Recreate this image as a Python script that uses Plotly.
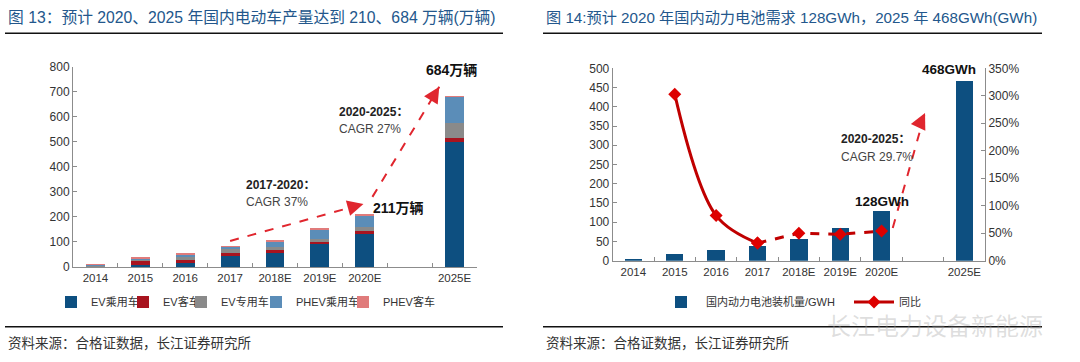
import plotly.graph_objects as go

# ---------------- data ----------------
categories = ["2014", "2015", "2016", "2017", "2018E", "2019E", "2020E", " ", "2025E"]
years = ["2014", "2015", "2016", "2017", "2018E", "2019E", "2020E", "2025E"]

ev_passenger = [2, 10, 17, 44, 55, 91, 131, 498]
ev_bus = [3, 12, 12, 11, 13, 10, 14, 18]
ev_special = [2, 8, 16, 20, 12, 12, 16, 60]
phev_passenger = [3, 6, 7, 7, 25, 38, 47, 105]
phev_bus = [2, 4, 3, 2, 3, 2, 3, 3]

battery_gwh = [3.7, 16.9, 29, 37, 57, 86, 128, 468]
yoy_years_actual = ["2015", "2016", "2017"]
yoy_actual = [3.03, 0.82, 0.32]
yoy_years_fcst = ["2017", "2018E", "2019E", "2020E"]
yoy_fcst = [0.32, 0.50, 0.48, 0.54]

series_names = ["EV乘用车", "EV客车", "EV专用车", "PHEV乘用车", "PHEV客车"]
series_vals = [ev_passenger, ev_bus, ev_special, phev_passenger, phev_bus]
series_cols = ["#0d4f80", "#a8141f", "#8a8a8a", "#5b8db8", "#e07b7b"]

W, H = 1080, 362
def px(x): return x / W
def py(y): return 1 - y / H

FONT = "Liberation Sans, Arial, Noto Sans CJK SC, sans-serif"
TXT = "#333333"
AX = "#8c8c8c"
BLUE_T = "#23578c"
ARROW = "#e0262e"

fig = go.Figure()

# ---------------- left chart ----------------
left_legends = ["legend", "legend3", "legend4", "legend5", "legend6"]
left_legend_text_x = [87, 159, 217, 292, 379]
for name, vals, col, lg in zip(series_names, series_vals, series_cols, left_legends):
    fig.add_trace(go.Bar(x=years, y=vals, name=name, marker=dict(color=col, line=dict(width=0)),
                         xaxis="x", yaxis="y", legend=lg, width=0.42))

totals = [sum(v) for v in zip(*series_vals)]

# ---------------- right chart ----------------
fig.add_trace(go.Bar(x=years, y=battery_gwh, name="国内动力电池装机量/GWH",
                     marker=dict(color="#0d4f80", line=dict(width=0)),
                     xaxis="x2", yaxis="y2", legend="legend2", width=0.42))
fig.add_trace(go.Scatter(x=yoy_years_actual, y=yoy_actual, name="同比", mode="lines+markers",
                         line=dict(color="#c00000", width=3, shape="spline", smoothing=1.0),
                         marker=dict(symbol="diamond", size=10, color="#dd0000"),
                         xaxis="x2", yaxis="y3", legend="legend7"))
fig.add_trace(go.Scatter(x=yoy_years_fcst, y=yoy_fcst, name="同比", mode="lines+markers",
                         line=dict(color="#c00000", width=3, dash="dash"),
                         marker=dict(symbol="diamond", size=10, color="#dd0000"),
                         xaxis="x2", yaxis="y3", showlegend=False))

axis_common = dict(showgrid=False, zeroline=False, showline=True, linecolor=AX, linewidth=1,
                   ticks="inside", ticklen=4, tickcolor=AX,
                   tickfont=dict(family=FONT, size=12, color=TXT))
xaxis_common = dict(axis_common, tickangle=0, tickfont=dict(family=FONT, size=11.5, color=TXT))

legend_font = dict(family=FONT, size=11, color=TXT)
legends = {}
for lg, tx in zip(left_legends, left_legend_text_x):
    legends[lg] = dict(orientation="h", x=px(tx - 36), y=py(302), xanchor="left", yanchor="middle",
                       font=legend_font, itemwidth=30, bgcolor="rgba(0,0,0,0)")
legends["legend2"] = dict(orientation="h", x=px(656), y=py(302), xanchor="left", yanchor="middle",
                          font=legend_font, itemwidth=40, bgcolor="rgba(0,0,0,0)")
legends["legend7"] = dict(orientation="h", x=px(849), y=py(302), xanchor="left", yanchor="middle",
                          font=legend_font, itemwidth=40, bgcolor="rgba(0,0,0,0)")

fig.update_layout(
    width=W, height=H, margin=dict(l=0, r=0, t=0, b=0, autoexpand=False),
    paper_bgcolor="white", plot_bgcolor="white",
    barmode="stack", font=dict(family=FONT, color=TXT),
    xaxis=dict(domain=[px(73), px(477)], anchor="y", type="category",
               categoryorder="array", categoryarray=categories, range=[-0.5, 8.5],
               tickson="boundaries", **xaxis_common),
    yaxis=dict(domain=[py(267), py(66.7)], anchor="x", range=[0, 800], dtick=100, **axis_common),
    xaxis2=dict(domain=[px(612.7), px(985)], anchor="y2", type="category",
                categoryorder="array", categoryarray=categories, range=[-0.5, 8.5],
                tickson="boundaries", **xaxis_common),
    yaxis2=dict(domain=[py(260.7), py(68.3)], anchor="x2", range=[0, 500], dtick=50, **axis_common),
    yaxis3=dict(overlaying="y2", anchor="x2", side="right", range=[0, 3.5], dtick=0.5,
                tickformat=".0%", **axis_common),
    **legends,
)

idx = {c: i for i, c in enumerate(categories)}

# dashed trend arrows (shapes) with arrowheads (annotations)
dash_lines = [
    ("x", "y", idx["2017"], totals[years.index("2017")] + 20, idx["2020E"] - 0.03, 252, -7.7, 2.1),
    ("x", "y", idx["2020E"] + 0.17, 280, idx["2025E"] - 0.34, 720, -4.2, 6.8),
    ("x2", "y2", idx["2020E"] + 0.27, 85, idx["2025E"] - 0.95, 384, -3.5, 7.3),
]
for xr, yr, x0, y0, x1, y1, ax, ay in dash_lines:
    fig.add_shape(type="line", xref=xr, yref=yr, x0=x0, y0=y0, x1=x1, y1=y1,
                  line=dict(color=ARROW, width=2, dash="dash"))
    fig.add_annotation(xref=xr, yref=yr, x=x1, y=y1, ax=ax, ay=ay, text="", showarrow=True,
                       arrowhead=2, arrowsize=1.6, arrowwidth=2, arrowcolor=ARROW, standoff=0)

ann = []
# value labels
ann.append(dict(xref="x", yref="y", x="2025E", y=totals[-1], text="<b>684万辆</b>", showarrow=False,
                yanchor="bottom", yshift=16, xshift=-3, font=dict(size=14, color="#111")))
ann.append(dict(xref="x", yref="y", x="2020E", y=totals[years.index("2020E")], text="<b>211万辆</b>",
                showarrow=False, xanchor="left", yanchor="middle", xshift=6, yshift=6,
                font=dict(size=14, color="#111")))
ann.append(dict(xref="x2", yref="y2", x="2025E", y=battery_gwh[-1], text="<b>468GWh</b>", showarrow=False,
                yanchor="bottom", yshift=2, xshift=-15, font=dict(size=13.5, color="#111")))
ann.append(dict(xref="x2", yref="y2", x="2020E", y=battery_gwh[years.index("2020E")], text="<b>128GWh</b>",
                showarrow=False, yanchor="bottom", yshift=0, font=dict(size=13.5, color="#111")))
# CAGR labels
for x, y, t in [(244, 185, "<b>2017-2020：</b>"), (244, 202, "CAGR 37%"),
                (337, 112, "<b>2020-2025：</b>"), (337, 129, "CAGR 27%"),
                (839, 139, "<b>2020-2025：</b>"), (839, 157, "CAGR 29.7%")]:
    ann.append(dict(xref="paper", yref="paper", x=px(x), y=py(y), text=t, showarrow=False,
                    xanchor="left", yanchor="middle", font=dict(size=12, color="#222" if "<b>" in t else "#444")))
# titles and sources
ann.append(dict(xref="paper", yref="paper", x=px(6), y=py(18),
                text="图 13：预计 2020、2025 年国内电动车产量达到 210、684 万辆(万辆)",
                showarrow=False, xanchor="left", yanchor="middle",
                font=dict(size=15.75, color=BLUE_T, family=FONT)))
ann.append(dict(xref="paper", yref="paper", x=px(544), y=py(18),
                text="图 14:预计 2020 年国内动力电池需求 128GWh，2025 年 468GWh(GWh)",
                showarrow=False, xanchor="left", yanchor="middle",
                font=dict(size=15.2, color=BLUE_T, family=FONT)))
for x in (6, 544):
    ann.append(dict(xref="paper", yref="paper", x=px(x), y=py(343),
                    text="资料来源：合格证数据，长江证券研究所", showarrow=False,
                    xanchor="left", yanchor="middle", font=dict(size=13.5, color="#333")))
# watermark (kept just below the legend row)
ann.append(dict(xref="paper", yref="paper", x=px(1045), y=py(324), text="长江电力设备新能源",
                showarrow=False, xanchor="right", yanchor="middle",
                font=dict(size=24, color="rgba(160,160,160,0.35)", family="Noto Sans CJK SC")))
for a in ann:
    fig.add_annotation(**a)

# rule lines
for x0, x1 in [(5, 503), (543, 1042)]:
    for y in (33.3, 326.7):
        fig.add_shape(type="line", xref="paper", yref="paper", x0=px(x0), x1=px(x1), y0=py(y), y1=py(y),
                      line=dict(color="#111", width=1.5))

fig.write_html("out.html", config={"displayModeBar": False},
               post_script="document.body.style.margin='0';document.body.style.overflow='hidden';")
